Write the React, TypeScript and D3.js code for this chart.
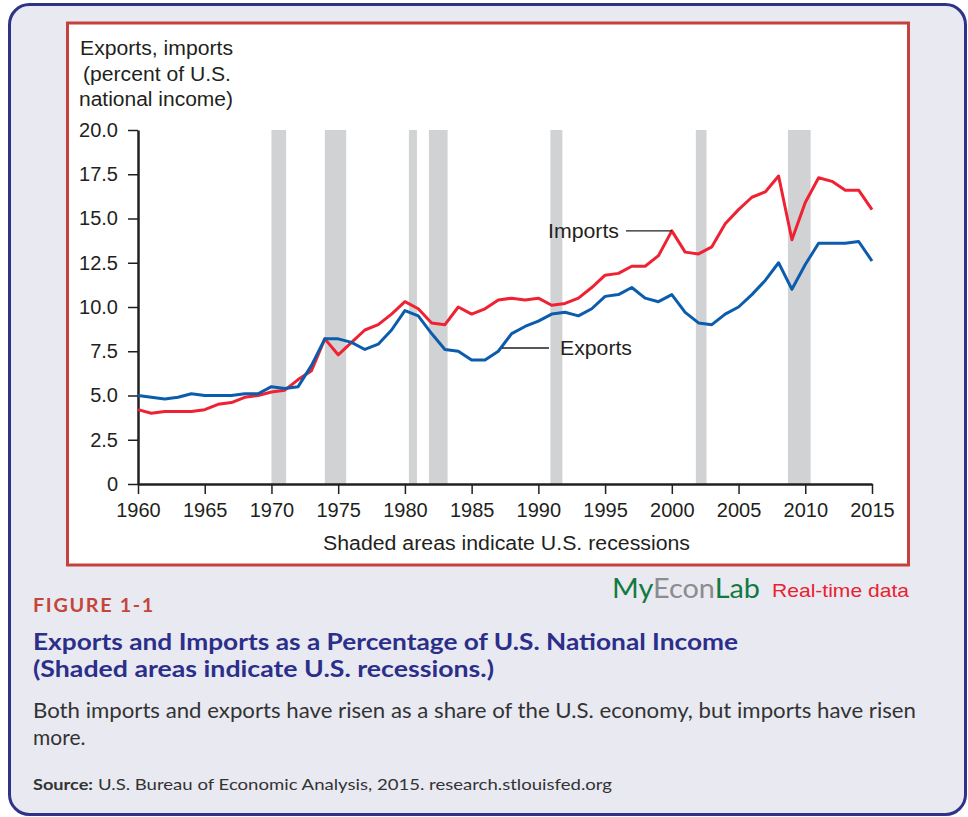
import { useEffect, useRef } from 'react';
import * as d3 from 'd3';

// Data (percent of U.S. national income)
const years: number[] = d3.range(1960, 2016);
const exportsPct: number[] = [
    5.0, 4.9, 4.8, 4.9, 5.1, 5.0, 5.0, 5.0, 5.1, 5.1,
    5.5, 5.4, 5.5, 6.7, 8.2, 8.2, 8.0, 7.6, 7.9, 8.7,
    9.8, 9.5, 8.5, 7.6, 7.5, 7.0, 7.0, 7.5, 8.5, 8.9,
    9.2, 9.6, 9.7, 9.5, 9.9, 10.6, 10.7, 11.1, 10.5, 10.3,
    10.7, 9.7, 9.1, 9.0, 9.6, 10.0, 10.7, 11.5, 12.5, 11.0,
    12.4, 13.6, 13.6, 13.6, 13.7, 12.6
];
const importsPct: number[] = [
    4.2, 4.0, 4.1, 4.1, 4.1, 4.2, 4.5, 4.6, 4.9, 5.0,
    5.2, 5.3, 5.9, 6.4, 8.2, 7.3, 8.0, 8.7, 9.0, 9.6,
    10.3, 9.9, 9.1, 9.0, 10.0, 9.6, 9.9, 10.4, 10.5, 10.4,
    10.5, 10.1, 10.2, 10.5, 11.1, 11.8, 11.9, 12.3, 12.3, 12.9,
    14.3, 13.1, 13.0, 13.4, 14.7, 15.5, 16.2, 16.5, 17.4, 13.8,
    15.9, 17.3, 17.1, 16.6, 16.6, 15.5
];
const recessions: [number, number][] = [
    [1970.0, 1971.1], [1974.0, 1975.6], [1980.3, 1980.9], [1981.8, 1983.2],
    [1990.9, 1991.8], [2001.8, 2002.6], [2008.7, 2010.4]
];
const yTicks: number[] = [0, 2.5, 5, 7.5, 10, 12.5, 15, 17.5, 20];
const xTicks: number[] = [1960, 1965, 1970, 1975, 1980, 1985, 1990, 1995, 2000, 2005, 2010, 2015];
const yTitle: string[] = ["Exports, imports", "(percent of U.S.", "national income)"];

const W = 968, H = 817;
const SANS = "'Liberation Sans', Arial, sans-serif";
const HUMAN = "Lato, 'Open Sans', sans-serif";
const INK = "#231f20";

export default function App() {
    const ref = useRef<SVGSVGElement | null>(null);

    useEffect(() => {
        const svg = d3.select(ref.current);
        svg.selectAll("*").remove();

        // outer panel
        svg.append("rect")
            .attr("x", 9.5).attr("y", 4.5).attr("width", 956).attr("height", 810)
            .attr("rx", 20)
            .attr("fill", "#e9e9f2").attr("stroke", "#2e3288").attr("stroke-width", 3);

        // chart box
        svg.append("rect")
            .attr("x", 67.5).attr("y", 23).attr("width", 841).attr("height", 542)
            .attr("fill", "#fff").attr("stroke", "#c8403c").attr("stroke-width", 3);

        const x = d3.scaleLinear().domain([1960, 2015]).range([138, 872]);
        const y = d3.scaleLinear().domain([0, 20]).range([484, 130]);

        // recession shading
        svg.append("g").selectAll("rect")
            .data(recessions)
            .enter()
            .append("rect")
                .attr("x", d => x(d[0]))
                .attr("width", d => x(d[1]) - x(d[0]))
                .attr("y", y(20))
                .attr("height", y(0) - y(20))
                .attr("fill", "#d1d2d4");

        // axes
        const yAxis = d3.axisLeft(y)
            .tickValues(yTicks)
            .tickSize(10)
            .tickSizeOuter(0)
            .tickPadding(10)
            .tickFormat(d => (+d === 0 ? "0" : (+d).toFixed(1)));
        const gy = svg.append("g").attr("transform", "translate(138,0)").call(yAxis);

        const xAxis = d3.axisBottom(x)
            .tickValues(xTicks)
            .tickSize(10)
            .tickSizeOuter(0)
            .tickPadding(9)
            .tickFormat(d => String(d));
        const gx = svg.append("g").attr("transform", "translate(0,484)").call(xAxis);

        [gx, gy].forEach(g => {
            g.select(".domain").attr("stroke", INK).attr("stroke-width", 2.5);
            g.selectAll(".tick line").attr("stroke", INK).attr("stroke-width", 1.5);
            g.selectAll(".tick text")
                .attr("fill", INK)
                .style("font-family", SANS)
                .style("font-size", "20px");
        });

        // lines
        const line = d3.line<number>()
            .x((d, i) => x(years[i]))
            .y(d => y(d));

        svg.append("path")
            .datum(importsPct)
            .attr("d", line)
            .attr("fill", "none")
            .attr("stroke", "#ee2233")
            .attr("stroke-width", 3)
            .attr("stroke-linejoin", "round");

        svg.append("path")
            .datum(exportsPct)
            .attr("d", line)
            .attr("fill", "none")
            .attr("stroke", "#0b5cad")
            .attr("stroke-width", 3)
            .attr("stroke-linejoin", "round");

        // series labels with leader lines
        const iy = y(importsPct[years.indexOf(2000)]);
        svg.append("line")
            .attr("x1", 626).attr("x2", x(2000)).attr("y1", iy).attr("y2", iy)
            .attr("stroke", INK).attr("stroke-width", 1.3);
        svg.append("text")
            .attr("x", 548).attr("y", iy + 7)
            .attr("textLength", 71).attr("lengthAdjust", "spacingAndGlyphs")
            .style("font-family", SANS).style("font-size", "20px").attr("fill", INK)
            .text("Imports");

        svg.append("line")
            .attr("x1", 502).attr("x2", 549).attr("y1", 348).attr("y2", 348)
            .attr("stroke", INK).attr("stroke-width", 1.3);
        svg.append("text")
            .attr("x", 560).attr("y", 355)
            .attr("textLength", 72).attr("lengthAdjust", "spacingAndGlyphs")
            .style("font-family", SANS).style("font-size", "20px").attr("fill", INK)
            .text("Exports");

        // y title
        const titleX = [80, 83, 79];
        const titleLen = [153, 148, 154];
        svg.append("g").selectAll("text")
            .data(yTitle)
            .enter()
            .append("text")
                .attr("x", (d, i) => titleX[i])
                .attr("y", (d, i) => 55 + i * 25.5)
                .attr("textLength", (d, i) => titleLen[i])
                .attr("lengthAdjust", "spacingAndGlyphs")
                .style("font-family", SANS).style("font-size", "20px").attr("fill", INK)
                .text(d => d);

        svg.append("text")
            .attr("x", 323).attr("y", 550)
            .attr("textLength", 367).attr("lengthAdjust", "spacingAndGlyphs")
            .style("font-family", SANS).style("font-size", "20px").attr("fill", INK)
            .text("Shaded areas indicate U.S. recessions");

        // MyEconLab badge
        const badge = svg.append("text")
            .attr("x", 612).attr("y", 598)
            .attr("textLength", 148).attr("lengthAdjust", "spacingAndGlyphs")
            .style("font-family", HUMAN).style("font-size", "26px");
        badge.append("tspan").attr("fill", "#127a3e").text("My");
        badge.append("tspan").attr("fill", "#8b8c8e").text("Econ");
        badge.append("tspan").attr("fill", "#127a3e").text("Lab");

        svg.append("text")
            .attr("x", 772).attr("y", 597)
            .attr("textLength", 137).attr("lengthAdjust", "spacingAndGlyphs")
            .style("font-family", SANS).style("font-size", "19px").attr("fill", "#e8222e")
            .text("Real-time data");

        // caption
        svg.append("text")
            .attr("x", 33).attr("y", 612)
            .attr("textLength", 122).attr("lengthAdjust", "spacingAndGlyphs")
            .style("font-family", HUMAN).style("font-size", "18px").style("font-weight", 700)
            .style("letter-spacing", "1.5px")
            .attr("fill", "#c4453a")
            .text("FIGURE 1-1");

        svg.append("text")
            .attr("x", 33).attr("y", 650)
            .attr("textLength", 705).attr("lengthAdjust", "spacingAndGlyphs")
            .style("font-family", HUMAN).style("font-size", "23px").style("font-weight", 700)
            .attr("fill", "#2b2f8a")
            .text("Exports and Imports as a Percentage of U.S. National Income");
        svg.append("text")
            .attr("x", 33).attr("y", 677)
            .attr("textLength", 461).attr("lengthAdjust", "spacingAndGlyphs")
            .style("font-family", HUMAN).style("font-size", "23px").style("font-weight", 700)
            .attr("fill", "#2b2f8a")
            .text("(Shaded areas indicate U.S. recessions.)");

        svg.append("text")
            .attr("x", 33).attr("y", 718)
            .attr("textLength", 883).attr("lengthAdjust", "spacingAndGlyphs")
            .style("font-family", HUMAN).style("font-size", "21px")
            .attr("fill", "#333")
            .text("Both imports and exports have risen as a share of the U.S. economy, but imports have risen");
        svg.append("text")
            .attr("x", 33).attr("y", 745)
            .style("font-family", HUMAN).style("font-size", "21px")
            .attr("fill", "#333")
            .text("more.");

        svg.append("text")
            .attr("x", 33).attr("y", 790)
            .attr("textLength", 60).attr("lengthAdjust", "spacingAndGlyphs")
            .style("font-family", HUMAN).style("font-size", "16px").style("font-weight", 700)
            .attr("fill", "#333")
            .text("Source:");
        svg.append("text")
            .attr("x", 98).attr("y", 790)
            .attr("textLength", 514).attr("lengthAdjust", "spacingAndGlyphs")
            .style("font-family", HUMAN).style("font-size", "16px")
            .attr("fill", "#333")
            .text("U.S. Bureau of Economic Analysis, 2015. research.stlouisfed.org");
    }, []);

    return (
        <svg ref={ref} width={W} height={H}
            style={{ position: "absolute", left: 0, top: 0, background: "#fff" }} />
    );
}
